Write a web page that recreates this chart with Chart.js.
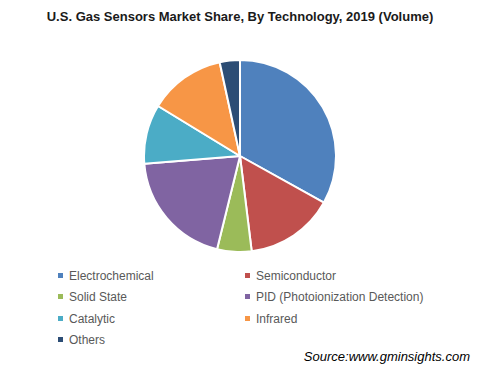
<!DOCTYPE html>
<html>
<head>
<meta charset="utf-8">
<script src="https://cdn.jsdelivr.net/npm/chart.js@4"></script>
<style>
  body { margin: 0; background: #fff; font-family: Arial, "Liberation Sans", sans-serif; }
  #wrap { position: relative; width: 480px; height: 380px; }
  #title { position: absolute; left: 0; top: 9px; width: 480px; text-align: center; font-weight: bold; font-size: 13px; color: #1a1a1a; }
  #pieBox { position: absolute; left: 143px; top: 59px; width: 194px; height: 194px; }
  .lg { position: absolute; font-size: 12px; color: #595959; line-height: 14px; }
  .lg span { display: inline-block; width: 5px; height: 5px; margin-right: 6px; vertical-align: 2px; }
  #source { position: absolute; right: 10px; top: 349px; font-style: italic; font-size: 13px; color: #000; }
</style>
</head>
<body>
<div id="wrap">
  <div id="title">U.S. Gas Sensors Market Share, By Technology, 2019 (Volume)</div>
  <div id="pieBox"><canvas id="chart1"></canvas></div>
  <div id="legend"></div>
  <div id="source">Source:www.gminsights.com</div>
</div>
<script>
// data (share in %)
const labels = ['Electrochemical', 'Semiconductor', 'Solid State', 'PID (Photoionization Detection)', 'Catalytic', 'Infrared', 'Others'];
const values = [33.1, 15.0, 5.8, 19.9, 10.0, 12.9, 3.4];
const colors = ['#4F81BD', '#C0504D', '#9BBB59', '#8064A2', '#4BACC6', '#F79646', '#2C4D75'];

// legend, two columns
const legend = document.querySelector('#legend');
labels.forEach((name, i) => {
    const col = i % 2;
    const row = Math.floor(i / 2);
    const d = document.createElement('div');
    d.className = 'lg';
    d.style.left = (col === 0 ? 58 : 245) + 'px';
    d.style.top = (269 + row * 21.3) + 'px';
    d.innerHTML = '<span style="background:' + colors[i] + '"></span>' + name;
    legend.appendChild(d);
});

const ctx = document.querySelector('#chart1').getContext('2d');
const chart = new Chart(ctx, {
    type: 'pie',
    data: {
        labels: labels,
        datasets: [{
            data: values,
            backgroundColor: colors,
            borderColor: '#fff',
            borderWidth: 2
        }]
    },
    options: {
        responsive: true,
        maintainAspectRatio: false,
        animation: false,
        layout: { padding: 0 },
        plugins: {
            legend: { display: false },
            tooltip: { enabled: false }
        }
    }
});
</script>
</body>
</html>
